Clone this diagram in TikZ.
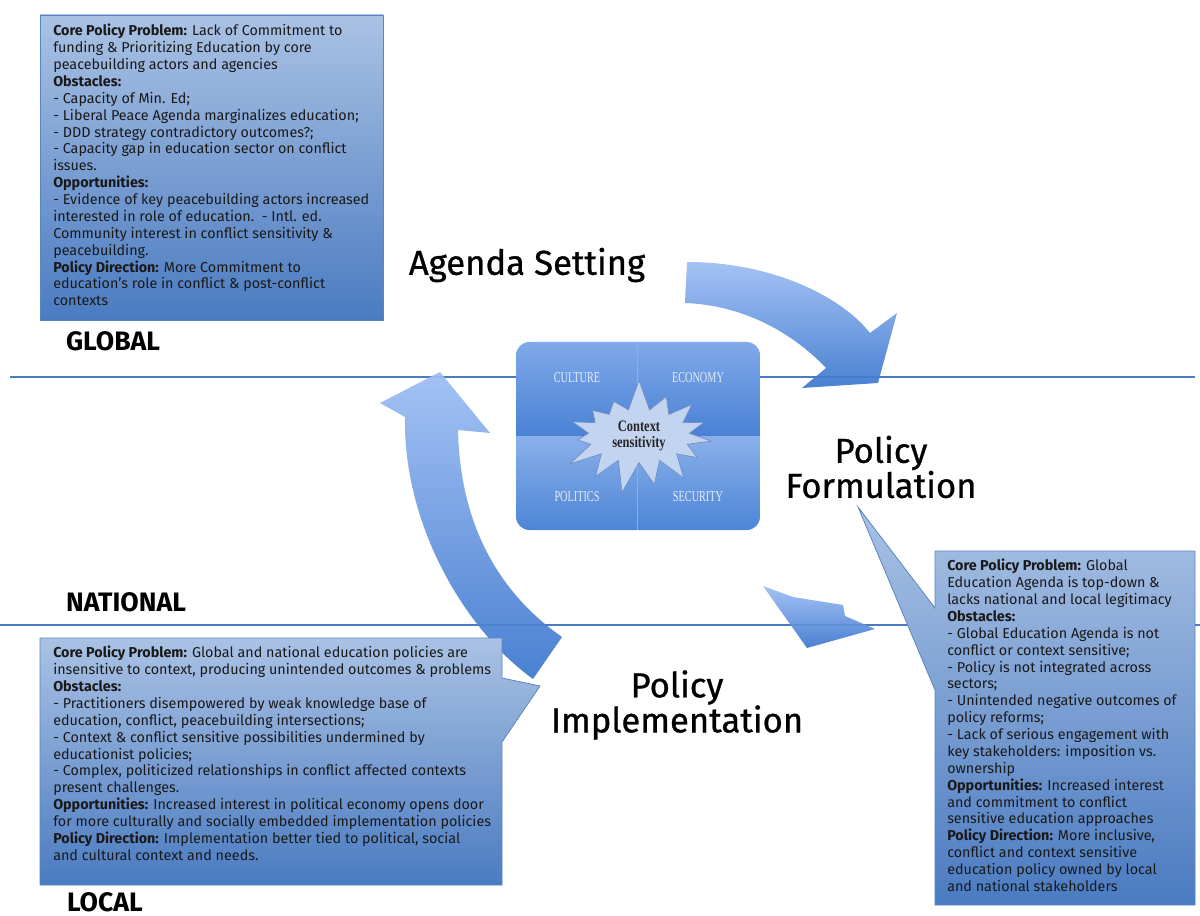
\documentclass[tikz,border=0pt]{standalone}
\usepackage{fontspec}
\setmainfont{Fira Sans}
\newfontfamily\titlefont[FakeBold=0.8]{Fira Sans}
\newfontfamily\quadfont[FakeStretch=0.68]{Liberation Serif}
\newfontfamily\burstfont[FakeStretch=0.78]{Liberation Serif}
\usepackage{tikz}
\usetikzlibrary{shapes.symbols}

\definecolor{boxtop}{HTML}{AAC2E4}
\definecolor{boxbottom}{HTML}{4A7BC1}
\definecolor{boxline}{HTML}{5A85C2}
\definecolor{arrowlight}{HTML}{9CBDF3}
\definecolor{arrowdark}{HTML}{3B76CE}
\definecolor{levelblue}{HTML}{4A7CBF}
\definecolor{quadtopA}{HTML}{80A9EA}
\definecolor{quadbotA}{HTML}{4A81D4}
\definecolor{quadtopB}{HTML}{8AB0EA}
\definecolor{quadbotB}{HTML}{4D85D6}
\definecolor{quadtext}{HTML}{E4ECF8}
\definecolor{burstfill}{HTML}{C3D4F0}
\definecolor{burstline}{HTML}{6F8FC2}

\tikzset{
  level line/.style={draw=levelblue, line width=2.2pt},
  big arrow/.style={top color=arrowlight, bottom color=arrowdark, fill opacity=0.92},
  callout box/.style={top color=boxtop, bottom color=boxbottom, draw=boxline, line width=0.6pt},
  callout text/.style={anchor=north west, inner sep=0pt, align=left, text=black!90,
    font=\fontsize{10.75}{12.65}\selectfont},
  stage title/.style={align=center, inner sep=0pt, font=\titlefont\fontsize{26}{26.3}\selectfont},
  level title/.style={inner sep=0pt, font=\fontsize{20}{22}\selectfont\bfseries},
  quad label/.style={inner sep=0pt, text=quadtext, font=\quadfont\fontsize{11.3}{12}\selectfont},
  context burst/.style={starburst, starburst points=15, starburst point height=24pt,
    random starburst=7, minimum width=124pt, minimum height=88pt, inner sep=0pt,
    fill=burstfill, draw=burstline, line width=0.5pt, align=center, text=black!85,
    font=\burstfont\bfseries\fontsize{12}{12.5}\selectfont}
}

\begin{document}
\begin{tikzpicture}[x=0.75pt,y=0.75pt,yscale=-1,xscale=1]
\useasboundingbox (0,0) rectangle (1200,916);

%Straight Lines [levels]
\draw[level line] (10,377) -- (1195,377);
\draw[level line] (0,625) -- (1200,625);

%Shape: Curved Arrow [agenda to formulation]
\shade[big arrow] (687,262) .. controls (770,262) and (840,295) .. (870,333) -- (897,313) -- (878,383) -- (802,388) -- (826,368) .. controls (790,330) and (740,305) .. (685,303) -- cycle;
%Shape: Curved Arrow [implementation to agenda]
\shade[big arrow] (533,679) .. controls (465,630) and (403,525) .. (405,417) -- (380,403) -- (440,372) -- (490,433) -- (458,430) .. controls (460,520) and (495,590) .. (562,637) -- cycle;
%Shape: Curved Arrow [formulation to implementation]
\shade[big arrow] (763,586) -- (793,597) -- (843,605) -- (845,616) -- (875,629) -- (807,648) -- cycle;

%Shape: Rounded Rect [context]
\begin{scope}
\clip[rounded corners=10pt] (516,342) rectangle (760,530);
\shade[top color=quadtopA, bottom color=quadbotA] (516,342) rectangle (760,436);
\shade[top color=quadtopB, bottom color=quadbotB] (516,436) rectangle (760,530);
\draw[quadtopB, line width=0.5pt] (637,342) -- (637,530);
\end{scope}

% Text Node
\node (culture) at (577,378) [quad label] {CULTURE};
% Text Node
\node (economy) at (698,378) [quad label] {ECONOMY};
% Text Node
\node (politics) at (577,497) [quad label] {POLITICS};
% Text Node
\node (security) at (698,497) [quad label] {SECURITY};
% Text Node
\node (context) at (639,436) [context burst] {Context\\sensitivity};

%Shape: Callout [global]
\shade[callout box] (40,15) rectangle (383,320);
%Shape: Callout [local]
\shade[callout box] (40,638) -- (502,638) -- (502,678) -- (540,686) -- (502,742) -- (502,885) -- (40,885) -- cycle;
%Shape: Callout [national]
\shade[callout box] (935,551) -- (1195,551) -- (1195,905) -- (935,905) -- (935,690) -- (858,507) -- (935,608) -- cycle;

% Text Node
\node (globaltext) at (53,24) [callout text] {\textbf{Core Policy Problem:} Lack of Commitment to\\
funding \& Prioritizing Education by core\\
peacebuilding actors and agencies\\
\textbf{Obstacles:}\\
- Capacity of Min. Ed;\\
- Liberal Peace Agenda marginalizes education;\\
- DDD strategy contradictory outcomes?;\\
- Capacity gap in education sector on conflict\\
issues.\\
\textbf{Opportunities:}\\
- Evidence of key peacebuilding actors increased\\
interested in role of education.\ \ - Intl. ed.\\
Community interest in conflict sensitivity \&\\
peacebuilding.\\
\textbf{Policy Direction:} More Commitment to\\
education’s role in conflict \& post-conflict\\
contexts};

% Text Node
\node (localtext) at (53,646) [callout text] {\textbf{Core Policy Problem:} Global and national education policies are\\
insensitive to context, producing unintended outcomes \& problems\\
\textbf{Obstacles:}\\
- Practitioners disempowered by weak knowledge base of\\
education, conflict, peacebuilding intersections;\\
- Context \& conflict sensitive possibilities undermined by\\
educationist policies;\\
- Complex, politicized relationships in conflict affected contexts\\
present challenges.\\
\textbf{Opportunities:} Increased interest in political economy opens door\\
for more culturally and socially embedded implementation policies\\
\textbf{Policy Direction:} Implementation better tied to political, social\\
and cultural context and needs.};

% Text Node
\node (nationaltext) at (947,559) [callout text] {\textbf{Core Policy Problem:} Global\\
Education Agenda is top-down \&\\
lacks national and local legitimacy\\
\textbf{Obstacles:}\\
- Global Education Agenda is not\\
conflict or context sensitive;\\
- Policy is not integrated across\\
sectors;\\
- Unintended negative outcomes of\\
policy reforms;\\
- Lack of serious engagement with\\
key stakeholders: imposition vs.\\
ownership\\
\textbf{Opportunities:} Increased interest\\
and commitment to conflict\\
sensitive education approaches\\
\textbf{Policy Direction:} More inclusive,\\
conflict and context sensitive\\
education policy owned by local\\
and national stakeholders};

% Text Node
\node (agenda) at (527,265) [stage title] {Agenda Setting};
% Text Node
\node (formulation) at (881,467) [stage title] {Policy\\Formulation};
% Text Node
\node (implementation) at (677,705) [stage title] {Policy\\Implementation};

% Text Node
\node (global) at (113,341) [level title] {GLOBAL};
% Text Node
\node (national) at (126,602) [level title] {NATIONAL};
% Text Node
\node (local) at (105,902) [level title] {LOCAL};

\end{tikzpicture}
\end{document}
